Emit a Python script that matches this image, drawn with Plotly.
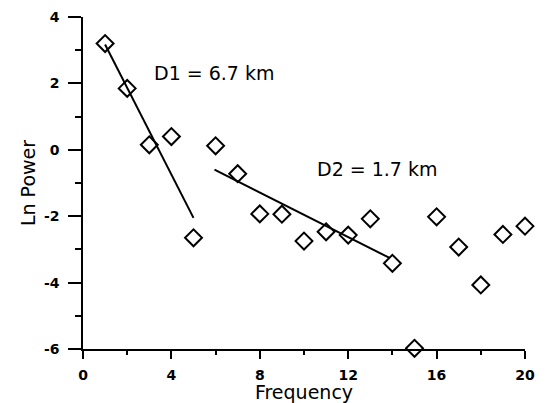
import plotly.graph_objects as go

# Data
frequency = list(range(1, 21))
ln_power = [3.2, 1.85, 0.15, 0.4, -2.65, 0.12, -0.72, -1.93, -1.94, -2.75,
            -2.47, -2.57, -2.08, -3.42, -5.98, -2.02, -2.93, -4.07, -2.55, -2.3]

fit1_x = [1.0, 5.0]
fit1_y = [3.17, -2.05]
fit2_x = [5.95, 13.85]
fit2_y = [-0.6, -3.25]

labels = ["D1 = 6.7 km", "D2 = 1.7 km"]
label_x = [3.1, 10.5]
label_y = [2.3, -0.58]

x_ticks = [0, 4, 8, 12, 16, 20]
x_ticktext = ["0", "4", "8", "12", "16", "20"]
y_ticks = [4, 2, 0, -2, -4, -6]
y_ticktext = ["4", "2", "0", "-2", "-4", "-6"]

FONT = "DejaVu Sans, Liberation Sans, Arial, sans-serif"

fig = go.Figure()
fig.add_trace(go.Scatter(x=fit1_x, y=fit1_y, mode="lines",
                         line=dict(color="black", width=2), showlegend=False))
fig.add_trace(go.Scatter(x=fit2_x, y=fit2_y, mode="lines",
                         line=dict(color="black", width=2), showlegend=False))
fig.add_trace(go.Scatter(x=frequency, y=ln_power, mode="markers",
                         marker=dict(symbol="diamond-open", size=13,
                                     color="black", line=dict(width=2, color="black")),
                         showlegend=False, cliponaxis=False))

for t, x, y in zip(labels, label_x, label_y):
    fig.add_annotation(x=x, y=y, xref="x", yref="y", text=t, showarrow=False,
                       xanchor="left", yanchor="middle",
                       font=dict(family=FONT, size=19, color="black"))

fig.update_xaxes(range=[0, 20], tickvals=x_ticks, ticktext=x_ticktext,
                 ticks="outside", ticklen=8, ticklabelstandoff=4,
                 ticklabeloverflow="allow",
                 tickwidth=1.5, tickcolor="black", showline=True, linecolor="black",
                 linewidth=1.5, showgrid=False, zeroline=False, automargin=False,
                 tickfont=dict(family=FONT, size=14, color="black", weight=700),
                 minor=dict(dtick=2, ticks="outside", ticklen=4, tickcolor="black", tickwidth=1.5),
                 title=dict(text="Frequency", standoff=0,
                            font=dict(family=FONT, size=19, color="black")))
fig.update_yaxes(range=[-6, 4], tickvals=y_ticks, ticktext=y_ticktext,
                 ticks="outside", ticklen=13, ticklabelstandoff=6,
                 ticklabeloverflow="allow",
                 tickwidth=1.5, tickcolor="black", showline=True, linecolor="black",
                 linewidth=1.5, showgrid=False, zeroline=False, automargin=False,
                 tickfont=dict(family=FONT, size=14, color="black", weight=700),
                 minor=dict(dtick=1, ticks="outside", ticklen=6, tickcolor="black", tickwidth=1.5),
                 title=dict(text="Ln Power", standoff=3,
                            font=dict(family=FONT, size=19, color="black")))

# page body has an 8px margin, so the figure is shrunk/offset to keep the plot area in place
fig.update_layout(width=537, height=395, plot_bgcolor="white", paper_bgcolor="white",
                  margin=dict(l=75, r=20, t=9, b=54))

fig.write_html("out.html")
